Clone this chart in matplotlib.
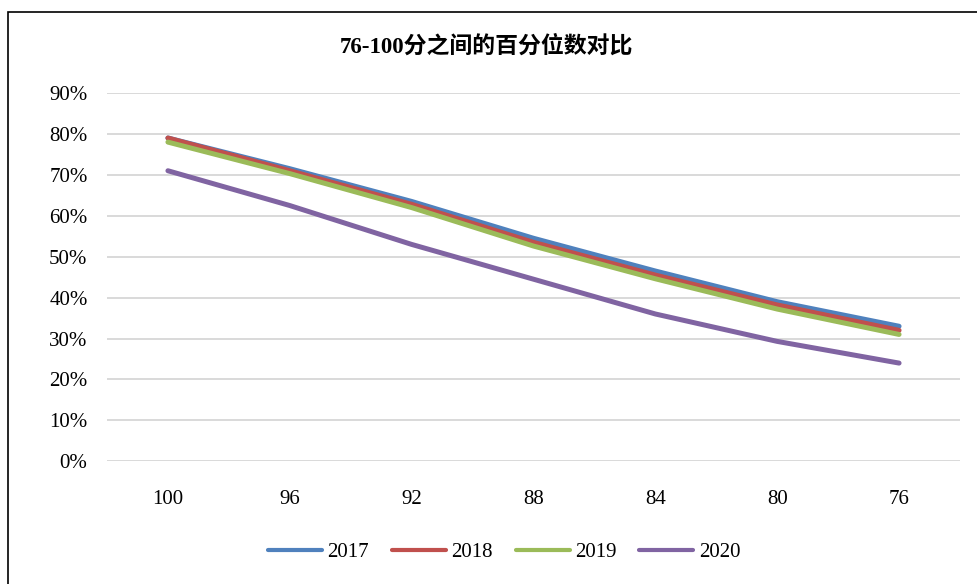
import matplotlib
matplotlib.use("Agg")
import matplotlib.pyplot as plt
from matplotlib.patches import Rectangle
from matplotlib.ticker import FuncFormatter

# percentile values (score bands 100 -> 76)
scores = ["100", "96", "92", "88", "84", "80", "76"]
y2017 = [0.79, 0.715, 0.635, 0.545, 0.465, 0.39, 0.33]
y2018 = [0.79, 0.71, 0.628, 0.535, 0.455, 0.382, 0.32]
y2019 = [0.78, 0.703, 0.62, 0.526, 0.446, 0.372, 0.31]
y2020 = [0.71, 0.625, 0.53, 0.445, 0.36, 0.293, 0.24]
years = ["2017", "2018", "2019", "2020"]
colors = ["#4F81BD", "#C0504D", "#9BBB59", "#8064A2"]

plt.rcParams["font.family"] = ["Liberation Serif", "Noto Sans CJK SC"]

fig = plt.figure(figsize=(9.78, 5.84), dpi=100)
fig.patches.append(Rectangle((8 / 978, -0.1), 1.1, (584 - 12) / 584 + 0.1,
                             transform=fig.transFigure, fill=False,
                             edgecolor="black", linewidth=1.2))

ax = fig.add_axes([107 / 978, (584 - 461.3) / 584, 853 / 978, 368.3 / 584])
x = range(len(scores))
for yr, vals, c in zip(years, [y2017, y2018, y2019, y2020], colors):
    ax.plot(x, vals, color=c, linewidth=3.6, solid_capstyle="round", label=yr, zorder=3)

ax.set_xlim(-0.5, len(scores) - 0.5)
ax.set_ylim(0, 0.9)
ax.set_yticks([i / 10 for i in range(10)])
ax.yaxis.set_major_formatter(FuncFormatter(lambda v, p: f"{v * 100:.0f}%"))
ax.set_xticks(list(x))
ax.set_xticklabels(scores)
ax.grid(axis="y", color="#D9D9D9", linewidth=1.4)
ax.set_axisbelow(True)
for s in ax.spines.values():
    s.set_visible(False)
ax.tick_params(axis="both", length=0, labelsize=15, colors="black")
ax.tick_params(axis="x", pad=21)
ax.tick_params(axis="y", pad=14)

fig.text(486 / 978, 1 - 47 / 584, "76-100分之间的百分位数对比", ha="center", va="center",
         fontsize=16.5, fontweight="bold")

leg = fig.legend(loc="center", bbox_to_anchor=(504 / 978, 1 - 552 / 584), ncol=4, frameon=False,
                 fontsize=15, handlelength=2.6, handletextpad=0.25, columnspacing=1.1)
for h in leg.get_lines():
    h.set_linewidth(3)

fig.savefig("out.png", dpi=100)
